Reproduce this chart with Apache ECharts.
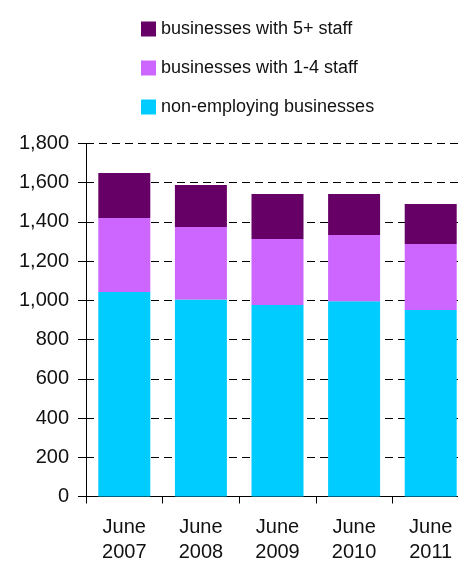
<!DOCTYPE html>
<html>
<head>
<meta charset="utf-8">
<script src="https://cdn.jsdelivr.net/npm/echarts@6/dist/echarts.min.js"></script>
<style>
  html, body { margin: 0; padding: 0; background: #fff; }
  #chart { width: 458px; height: 563px; }
</style>
</head>
<body>
<div id="chart"></div>
<script>
// data
const years = ["June\n2007", "June\n2008", "June\n2009", "June\n2010", "June\n2011"];
const nonEmploying = [1043, 1005, 977, 995, 951];
const staff1to4 = [377, 369, 336, 338, 337];
const staff5plus = [230, 214, 230, 210, 204];
const seriesNames = ["non-employing businesses", "businesses with 1-4 staff", "businesses with 5+ staff"];
const colors = ["#00ccff", "#cc66ff", "#660066"];

const chart = echarts.init(document.getElementById("chart"));
const font = "'Liberation Sans', Arial, Helvetica, sans-serif";

chart.setOption({
  animation: false,
  textStyle: { fontFamily: font },
  legend: {
    orient: "vertical",
    left: 141,
    top: 20,
    padding: 0,
    itemWidth: 15,
    itemHeight: 15,
    itemGap: 21,
    icon: "rect",
    // top to bottom as in the picture
    data: [seriesNames[2], seriesNames[1], seriesNames[0]],
    textStyle: { fontSize: 18, color: "#111", lineHeight: 18, fontFamily: font },
  },
  grid: {
    left: 86,
    top: 143.5,
    width: 383,
    height: 353,
    outerBoundsMode: "none", // the original is cut off at the right edge
  },
  xAxis: {
    type: "category",
    data: years,
    axisLine: { lineStyle: { color: "#000", width: 1 } },
    axisTick: { show: true, length: 7, lineStyle: { color: "#000" } },
    axisLabel: { fontSize: 20, color: "#111", lineHeight: 25, margin: 18, interval: 0, fontFamily: font },
  },
  yAxis: {
    type: "value",
    min: 0,
    max: 1800,
    interval: 200,
    axisLine: { show: true, lineStyle: { color: "#000", width: 1 } },
    axisTick: { show: true, length: 8, lineStyle: { color: "#000" } },
    axisLabel: {
      fontSize: 20,
      color: "#111",
      margin: 17,
      fontFamily: font,
      formatter: (v) => v.toLocaleString("en-US"),
    },
    splitLine: { show: true, lineStyle: { color: "#000", width: 1, type: [8, 5] } },
  },
  series: [
    { name: seriesNames[0], type: "bar", stack: "total", barWidth: 52, data: nonEmploying, itemStyle: { color: colors[0] } },
    { name: seriesNames[1], type: "bar", stack: "total", barWidth: 52, data: staff1to4, itemStyle: { color: colors[1] } },
    { name: seriesNames[2], type: "bar", stack: "total", barWidth: 52, data: staff5plus, itemStyle: { color: colors[2] } },
  ],
});
</script>
</body>
</html>
